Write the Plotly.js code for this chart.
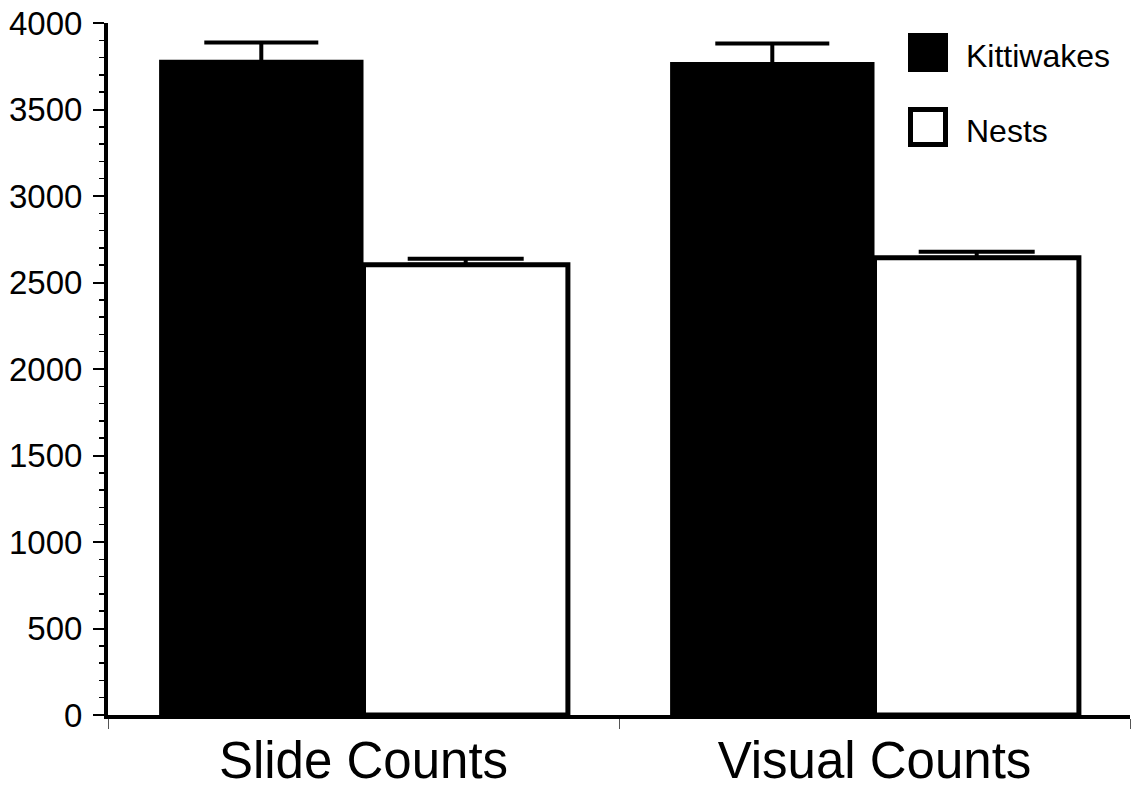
<!DOCTYPE html>
<html>
<head>
<meta charset="utf-8">
<script src="https://cdn.plot.ly/plotly-3.0.1.min.js"></script>
<style>html,body{margin:0;padding:0;background:#fff;}#chart{width:1132px;height:792px;}</style>
</head>
<body>
<div id="chart"></div>
<script>
const categories = ["Slide Counts", "Visual Counts"];
const seriesNames = ["Kittiwakes", "Nests"];
const kittiwakes = [3788, 3775];
const kittiwakesErr = [100, 106];
const nests = [2603, 2643];
const nestsErr = [34, 35];

const FONT = "Liberation Sans, Arial, Helvetica, sans-serif";

const traces = [
  {
    type: "bar", name: seriesNames[0], x: categories, y: kittiwakes,
    marker: {color: "#000", line: {color: "#000", width: 0}},
    error_y: {type: "data", array: kittiwakesErr, symmetric: true,
              color: "#000", thickness: 4, width: 57},
    showlegend: false
  },
  {
    type: "bar", name: seriesNames[1], x: categories, y: nests,
    marker: {color: "#fff", line: {color: "#000", width: 5}},
    error_y: {type: "data", array: nestsErr, arrayminus: [0, 0], symmetric: false,
              color: "#000", thickness: 4, width: 58},
    showlegend: false
  }
];

const layout = {
  width: 1132, height: 792,
  margin: {l: 108, r: 2, t: 23, b: 77},
  paper_bgcolor: "#fff", plot_bgcolor: "#fff",
  barmode: "group", bargap: 0.2, bargroupgap: 0,
  font: {family: FONT, color: "#000"},
  xaxis: {
    type: "category",
    showline: true, linecolor: "#000", linewidth: 4,
    ticks: "outside", tickson: "boundaries", ticklen: 10, tickwidth: 1, tickcolor: "#555",
    tickfont: {family: FONT, size: 51, color: "#000"},
    ticklabelstandoff: -2,
    showgrid: false, zeroline: false, fixedrange: true
  },
  yaxis: {
    range: [0, 4000], dtick: 500, tick0: 0,
    showline: true, linecolor: "#000", linewidth: 4,
    ticks: "outside", ticklen: 11, tickwidth: 2, tickcolor: "#000",
    tickfont: {family: FONT, size: 33, color: "#000"},
    ticklabelstandoff: 4,
    minor: {dtick: 100, ticks: "outside", ticklen: 5, tickwidth: 1.5, tickcolor: "#000", showgrid: false},
    showgrid: false, zeroline: false, fixedrange: true
  },
  shapes: [
    {type: "rect", xref: "paper", yref: "paper",
     x0: (908 - 108) / 1022, x1: (948 - 108) / 1022,
     y0: (715 - 72) / 692, y1: (715 - 33) / 692,
     fillcolor: "#000", line: {color: "#000", width: 0}},
    {type: "rect", xref: "paper", yref: "paper",
     x0: (910.5 - 108) / 1022, x1: (945.5 - 108) / 1022,
     y0: (715 - 144.5) / 692, y1: (715 - 109.5) / 692,
     fillcolor: "#fff", line: {color: "#000", width: 5}}
  ],
  annotations: [
    {xref: "paper", yref: "paper", x: (964 - 108) / 1022, y: (715 - 56) / 692,
     xanchor: "left", yanchor: "middle", showarrow: false, text: seriesNames[0],
     font: {family: FONT, size: 32, color: "#000"}},
    {xref: "paper", yref: "paper", x: (964 - 108) / 1022, y: (715 - 131) / 692,
     xanchor: "left", yanchor: "middle", showarrow: false, text: seriesNames[1],
     font: {family: FONT, size: 32, color: "#000"}}
  ]
};

Plotly.newPlot("chart", traces, layout, {staticPlot: true, displayModeBar: false});
</script>
</body>
</html>
